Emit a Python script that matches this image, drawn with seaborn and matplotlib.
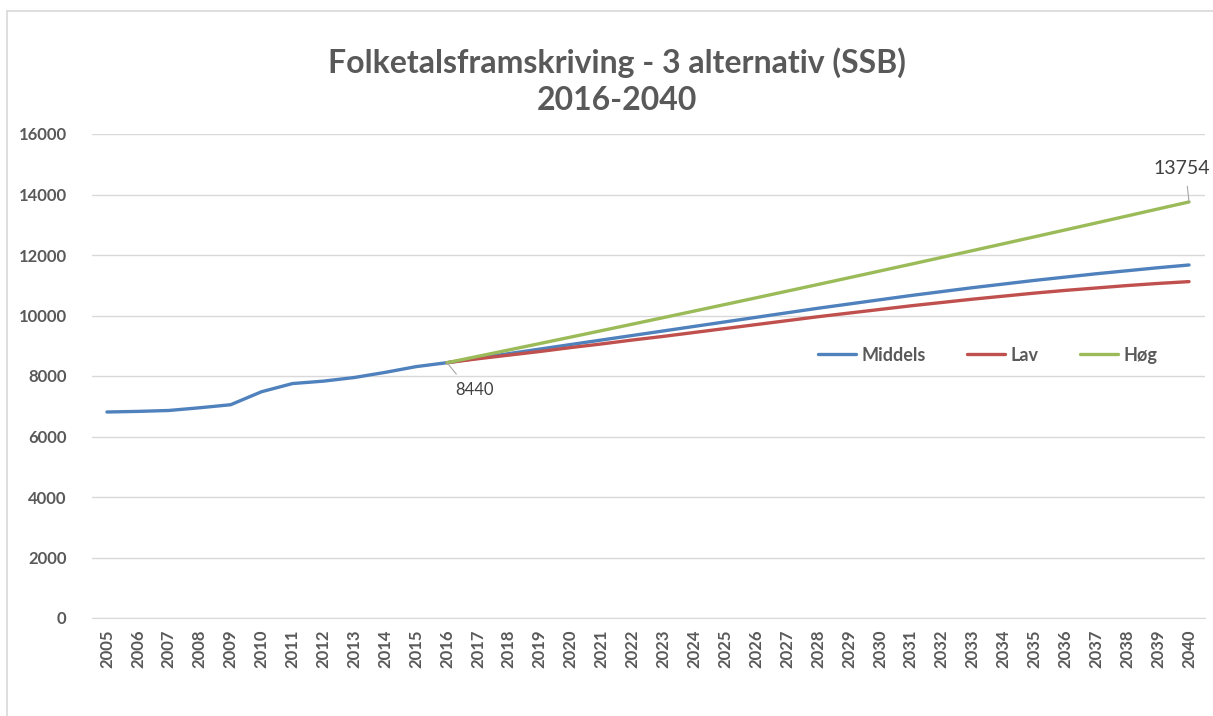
import pandas as pd
import seaborn as sns
import matplotlib.pyplot as plt
from matplotlib.lines import Line2D

# Data
years_hist = list(range(2005, 2016))
middels_hist = [6810, 6830, 6860, 6950, 7050, 7480, 7750, 7830, 7950, 8120, 8310]

years_proj = list(range(2016, 2041))
middels = [8440, 8590, 8740, 8890, 9040, 9190, 9340, 9490, 9640, 9790, 9940, 10090, 10240,
           10380, 10520, 10660, 10790, 10920, 11040, 11160, 11270, 11380, 11480, 11580, 11670]
lav = [8440, 8570, 8690, 8810, 8940, 9060, 9190, 9310, 9440, 9570, 9700, 9830, 9960,
       10080, 10200, 10320, 10430, 10540, 10640, 10740, 10830, 10910, 10990, 11060, 11120]
hog = [8440, 8650, 8861, 9073, 9286, 9500, 9715, 9931, 10148, 10366, 10585, 10805, 11026,
       11248, 11471, 11695, 11920, 12146, 12373, 12601, 12830, 13060, 13291, 13523, 13754]

series_names = ['Middels', 'Lav', 'Høg']
colors = ['#4F81BD', '#C0504D', '#9BBB59']

# Long-form table for seaborn
df = pd.concat([
    pd.DataFrame({'year': years_hist + years_proj, 'value': middels_hist + middels, 'serie': 'Middels'}),
    pd.DataFrame({'year': years_proj, 'value': lav, 'serie': 'Lav'}),
    pd.DataFrame({'year': years_proj, 'value': hog, 'serie': 'Høg'}),
], ignore_index=True)

sns.set_style('white')
plt.rcParams['font.family'] = ['Lato', 'DejaVu Sans']

W, H = 1213, 716
fig = plt.figure(figsize=(W / 100, H / 100), dpi=100)
ax = fig.add_axes([91.5 / W, (H - 618) / H, 1113 / W, 484 / H])

sns.lineplot(data=df, x='year', y='value', hue='serie', hue_order=series_names,
             palette=colors, linewidth=2.4, ax=ax, legend=True)

ax.set_xlim(2004.5, 2040.5)
ax.set_ylim(0, 16000)
ax.set_yticks(range(0, 16001, 2000))
ax.set_xticks(range(2005, 2041))
ax.set_xticklabels([str(y) for y in range(2005, 2041)], rotation=90)
ax.set_xlabel('')
ax.set_ylabel('')

grey = '#595959'
ax.tick_params(axis='both', length=0, labelsize=12, labelcolor=grey)
ax.tick_params(axis='y', pad=18)
ax.tick_params(axis='x', pad=8)
for lbl in ax.get_xticklabels() + ax.get_yticklabels():
    lbl.set_fontweight('bold')

ax.grid(axis='y', color='#D9D9D9', linewidth=1)
ax.set_axisbelow(True)
for s in ['top', 'right', 'left']:
    ax.spines[s].set_visible(False)
ax.spines['bottom'].set_color('#D9D9D9')

# legend inside the plot, one row
handles, labels = ax.get_legend_handles_labels()
leg = ax.legend(handles=handles, labels=labels, ncol=3, frameon=False,
                loc='center', bbox_to_anchor=(0.805, 0.543),
                handlelength=2.1, handletextpad=0.3, columnspacing=2.3,
                prop={'weight': 'bold', 'size': 13})
for t in leg.get_texts():
    t.set_color(grey)

# data labels
lead = dict(arrowstyle='-', color='#A6A6A6', lw=0.8, shrinkA=4, shrinkB=0)
ax.annotate('8440', xy=(2016, 8440), xytext=(27, -27), textcoords='offset pixels',
            ha='center', va='center', fontsize=12, color='#404040',
            arrowprops=dict(lead, relpos=(0.2, 1)))
ax.annotate('13754', xy=(2040, 13754), xytext=(21, 33), textcoords='offset pixels',
            ha='right', va='center', fontsize=14, color='#404040',
            arrowprops=dict(lead, relpos=(0.58, 0)), annotation_clip=False)

# title
fig.text(617 / W, 1 - 63 / H, 'Folketalsframskriving - 3 alternativ (SSB)', ha='center', va='center',
         fontsize=23, fontweight='bold', color=grey)
fig.text(617 / W, 1 - 101 / H, '2016-2040', ha='center', va='center',
         fontsize=23, fontweight='bold', color=grey)

# chart area border (top and left visible)
fig.add_artist(Line2D([7 / W, 7 / W], [0, 1 - 11 / H], color='#D9D9D9', lw=1.2, transform=fig.transFigure))
fig.add_artist(Line2D([7 / W, 1], [1 - 11 / H, 1 - 11 / H], color='#D9D9D9', lw=1.2, transform=fig.transFigure))

fig.savefig('out.png', dpi=100)
